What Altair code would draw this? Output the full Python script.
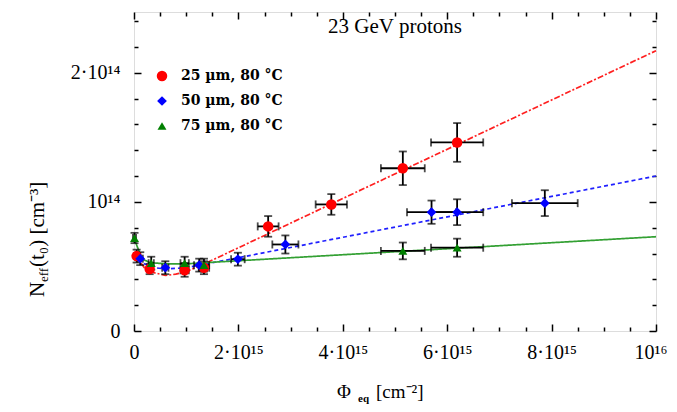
import altair as alt
import pandas as pd

# Units: fluence in 1e15 cm^-2, N_eff in 1e14 cm^-3
series = ["25 µm, 80 °C", "50 µm, 80 °C", "75 µm, 80 °C"]
colors = ["#ff0000", "#0000ff", "#008000"]
line_colors = ["#ff2020", "#2020ff", "#33a033"]
line_dashes = [[6, 2, 2, 2], [4, 3], [1, 0]]
shapes = ["circle", "diamond", "triangle-up"]
sizes = [110, 80, 90]

# measured points
red_x = [0.05, 0.30, 0.97, 1.34, 2.57, 3.78, 5.15, 6.19]
red_y = [0.58, 0.48, 0.47, 0.49, 0.81, 0.98, 1.26, 1.46]
red_xerr = [0.05, 0.05, 0.08, 0.10, 0.20, 0.30, 0.42, 0.50]
red_yerr = [0.05, 0.04, 0.05, 0.05, 0.08, 0.08, 0.13, 0.15]

blue_x = [0.12, 0.60, 1.25, 1.99, 2.90, 5.70, 6.19, 7.87]
blue_y = [0.56, 0.49, 0.51, 0.556, 0.67, 0.92, 0.92, 0.99]
blue_xerr = [0.05, 0.06, 0.10, 0.13, 0.25, 0.47, 0.50, 0.63]
blue_yerr = [0.05, 0.05, 0.05, 0.05, 0.07, 0.09, 0.10, 0.10]

green_x = [0.01, 0.33, 0.97, 1.34, 5.15, 6.19]
green_y = [0.72, 0.525, 0.525, 0.51, 0.62, 0.645]
green_xerr = [0.03, 0.05, 0.08, 0.10, 0.42, 0.50]
green_yerr = [0.04, 0.05, 0.05, 0.05, 0.065, 0.07]

# fit curves
red_fit_x = [0.0, 0.2, 0.4, 0.6, 0.8, 1.0, 1.4, 10.0]
red_fit_y = [0.60, 0.49, 0.45, 0.43, 0.44, 0.46, 0.53, 2.17]
blue_fit_x = [0.0, 0.2, 0.4, 0.6, 1.0, 1.4, 10.0]
blue_fit_y = [0.60, 0.52, 0.49, 0.48, 0.49, 0.52, 1.20]
green_fit_x = [0.0, 0.15, 0.3, 0.6, 1.0, 1.4, 10.0]
green_fit_y = [0.72, 0.56, 0.53, 0.52, 0.52, 0.53, 0.73]

x_major = [0, 2, 4, 6, 8, 10]
x_minor = [v / 2 for v in range(1, 20) if v % 4 != 0]
y_major = [0, 1, 2]
y_minor = [round(v * 0.2, 1) for v in range(1, 13) if v % 5 != 0]

title_text = ["23 GeV protons"]
xtitle_parts = ["Φ", "eq", "[cm⁻²]"]
ytitle_parts = ["N", "eff", "(t₀) [cm⁻³]"]

# ---- build tables
rows = []
for s, xs_, ys_, xe, ye in [
    (series[0], red_x, red_y, red_xerr, red_yerr),
    (series[1], blue_x, blue_y, blue_xerr, blue_yerr),
    (series[2], green_x, green_y, green_xerr, green_yerr),
]:
    for a, b, c, d in zip(xs_, ys_, xe, ye):
        rows.append(dict(series=s, x=a, y=b, xlo=a - c, xhi=a + c, ylo=b - d, yhi=b + d))
pts = pd.DataFrame(rows)

fit_tables = []
for fx, fy in [(red_fit_x, red_fit_y), (blue_fit_x, blue_fit_y), (green_fit_x, green_fit_y)]:
    fit_tables.append(pd.DataFrame({"x": fx, "y": fy, "o": list(range(len(fx)))}))

xs = alt.Scale(domain=[0, 10], nice=False, zero=False)
ys = alt.Scale(domain=[0, 2.47], nice=False, zero=False)

FONT = "Liberation Serif"

base_axis = dict(domain=False, grid=False, tickColor="black", tickWidth=1.5,
                 labelFont=FONT, labelFontSize=20, labelColor="black", title=None)

def axis_layer(xaxis, yaxis):
    return alt.Chart(fit_tables[0]).mark_point(opacity=0).encode(
        x=alt.X("x:Q", scale=xs, axis=xaxis),
        y=alt.Y("y:Q", scale=ys, axis=yaxis),
    )

ax_main = axis_layer(
    alt.Axis(orient="bottom", values=x_major, tickSize={"expr": "-7"}, labelPadding=18,
             labelExpr="datum.value == 0 ? '0' : datum.value == 10 ? '' : datum.value + '·10¹⁵'",
             labelFlush=False, **base_axis),
    alt.Axis(orient="left", values=y_major, tickSize={"expr": "-7"}, labelPadding=21,
             labelExpr="datum.value == 0 ? '0' : datum.value == 1 ? '10¹⁴' : datum.value + '·10¹⁴'",
             labelFlush=False, **base_axis),
)
ax_last = axis_layer(
    alt.Axis(orient="bottom", values=[10], ticks=False, labelPadding=11,
             labelExpr="'10¹⁶'", labelFlush=True, labelFlushOffset=11, **base_axis),
    None,
)
ax_minor = axis_layer(
    alt.Axis(orient="bottom", values=x_minor, tickSize={"expr": "-4"}, labels=False, **base_axis),
    alt.Axis(orient="left", values=y_minor, tickSize={"expr": "-4"}, labels=False, **base_axis),
)
ax_top = axis_layer(
    alt.Axis(orient="top", values=x_major, tickSize={"expr": "-7"}, labels=False, **base_axis),
    alt.Axis(orient="right", values=y_major, tickSize={"expr": "-7"}, labels=False, **base_axis),
)
ax_top_minor = axis_layer(
    alt.Axis(orient="top", values=x_minor, tickSize={"expr": "-4"}, labels=False, **base_axis),
    alt.Axis(orient="right", values=y_minor, tickSize={"expr": "-4"}, labels=False, **base_axis),
)

line_layers = []
for tbl, col, dash in zip(fit_tables, line_colors, line_dashes):
    line_layers.append(
        alt.Chart(tbl).mark_line(strokeWidth=1.7, color=col, strokeDash=dash).encode(
            x=alt.X("x:Q", scale=xs, axis=None),
            y=alt.Y("y:Q", scale=ys, axis=None),
            order="o:Q",
        )
    )

vbars = alt.Chart(pts).mark_errorbar(ticks=True, color="black", thickness=1.8, size=8).encode(
    x=alt.X("x:Q", scale=xs, axis=None),
    y=alt.Y("ylo:Q", scale=ys, axis=None),
    y2="yhi:Q",
)
hbars = alt.Chart(pts).mark_errorbar(ticks=True, color="black", thickness=1.8, size=8).encode(
    y=alt.Y("y:Q", scale=ys, axis=None),
    x=alt.X("xlo:Q", scale=xs, axis=None),
    x2="xhi:Q",
)

leg = alt.Legend(orient="none", legendX=21, legendY=57, title=None, labelFont="DejaVu Serif",
                 labelFontSize=14, labelFontWeight="bold", labelColor="black",
                 symbolStrokeWidth=0, rowPadding=11, labelOffset=12)
points = alt.Chart(pts).mark_point(filled=True, opacity=1).encode(
    x=alt.X("x:Q", scale=xs, axis=None),
    y=alt.Y("y:Q", scale=ys, axis=None),
    color=alt.Color("series:N", scale=alt.Scale(domain=series, range=colors), legend=leg),
    shape=alt.Shape("series:N", scale=alt.Scale(domain=series, range=shapes), legend=leg),
    size=alt.Size("series:N", scale=alt.Scale(domain=series, range=sizes), legend=leg),
)

title = alt.Chart(pd.DataFrame({"t": title_text})).mark_text(
    font=FONT, fontSize=21, color="black", align="center", baseline="middle"
).encode(x=alt.value(261), y=alt.value(15), text="t:N")

xt = pd.DataFrame({"t": xtitle_parts})
xt1 = alt.Chart(xt.iloc[[0]]).mark_text(font=FONT, fontSize=19, color="black", align="left", baseline="alphabetic").encode(
    x=alt.value(203), y=alt.value(386), text="t:N")
xt2 = alt.Chart(xt.iloc[[1]]).mark_text(font=FONT, fontSize=11, fontWeight="bold", color="black", align="left", baseline="alphabetic").encode(
    x=alt.value(224), y=alt.value(390), text="t:N")
xt3 = alt.Chart(xt.iloc[[2]]).mark_text(font=FONT, fontSize=19, color="black", align="left", baseline="alphabetic").encode(
    x=alt.value(242), y=alt.value(386), text="t:N")

yt = pd.DataFrame({"t": ytitle_parts})
yt1 = alt.Chart(yt.iloc[[0]]).mark_text(font=FONT, fontSize=21, color="black", align="left", baseline="alphabetic", angle=270).encode(
    x=alt.value(-90), y=alt.value(285), text="t:N")
yt2 = alt.Chart(yt.iloc[[1]]).mark_text(font=FONT, fontSize=13, color="black", align="left", baseline="alphabetic", angle=270).encode(
    x=alt.value(-86), y=alt.value(270), text="t:N")
yt3 = alt.Chart(yt.iloc[[2]]).mark_text(font=FONT, fontSize=21, color="black", align="left", baseline="alphabetic", angle=270).encode(
    x=alt.value(-90), y=alt.value(255), text="t:N")

chart = alt.layer(
    ax_main, ax_last, ax_minor, ax_top, ax_top_minor,
    *line_layers, vbars, hbars, points,
    title, xt1, xt2, xt3, yt1, yt2, yt3,
).resolve_axis(x="independent", y="independent").properties(
    width=522, height=319,
    autosize=alt.AutoSizeParams(type="none"),
    padding={"left": 126, "top": 4, "right": 13, "bottom": 73},
).configure_view(stroke="black", strokeWidth=1.6).configure(background="white")

chart.save("out.html", embed_options={"renderer": "svg", "actions": False})
